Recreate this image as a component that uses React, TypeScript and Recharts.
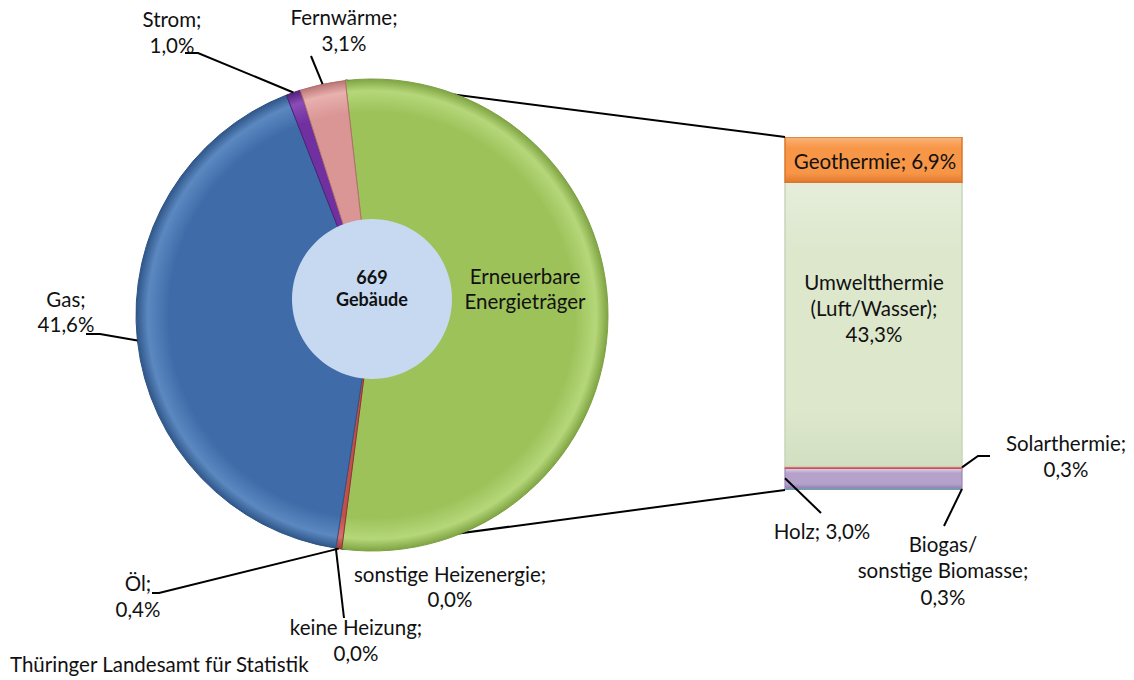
import React from 'react';
import { PieChart, Pie, Cell, BarChart, Bar, XAxis, YAxis } from 'recharts';

// ---------- data ----------
const pieCategories = ['Erneuerbare\nEnergieträger', 'Öl', 'sonstige Heizenergie', 'keine Heizung', 'Gas', 'Strom', 'Fernwärme'];
const pieValues = [53.8, 0.4, 0.0, 0.0, 41.6, 1.0, 3.1];
const barCategories = ['Biogas/\nsonstige Biomasse', 'Holz', 'Solarthermie', 'Umweltthermie\n(Luft/Wasser)', 'Geothermie'];
const barValues = [0.3, 3.0, 0.3, 43.3, 6.9];
const centerValue = 669;
const centerUnit = 'Gebäude';
const sourceText = 'Thüringer Landesamt für Statistik';

// ---------- layout / style ----------
const W = 1134;
const H = 680;
const FONT = "Lato, 'Open Sans', sans-serif";
const FS = 20.5;
const TXT = '#111';
const PIE = { cx: 372, cy: 315, r: 236, startAngle: 96.5 };
const HOLE = { cx: 372, cy: 299, r: 80 };
const BAR_MARGIN = { top: 137, right: 172, bottom: 190, left: 785 };

// [rim-light, base, dark]
const pieShades = [
  ['#B5D77A', '#9DC25A', '#7FA442'],
  ['#D8706D', '#C0504D', '#9A3A38'],
  ['#BBB', '#A0A0A0', '#808080'],
  ['#999', '#808080', '#666'],
  ['#5B88C0', '#3F6CA8', '#2F5689'],
  ['#8A4CB8', '#7030A0', '#53207A'],
  ['#E8B0AE', '#D99694', '#BA7573'],
];
const pieStrokes = ['#7E9F45', '#8E3533', '#777', '#777', '#2F5585', '#4F1F75', '#B06F6D'];
// [top-light, base, bottom-dark]
const barShades = [
  ['#8FC2CE', '#5E9EAD', '#4A8796'],
  ['#DDD2EA', '#B4A2CB', '#9482AF'],
  ['#E07A77', '#D9534F', '#B73A37'],
  ['#E6EEDB', '#DCE7CC', '#D3DFC1'],
  ['#FAB47A', '#F79646', '#E2792C'],
];
const barStrokes = ['#6AA8B6', '#9A88B5', '#D9464F', '#C9D3BC', '#D9772C'];
const barStrokeWidths = [1, 1.2, 1, 1.5, 1.5];

type LabelCfg = { x: number; base: number[]; mode: 'stack' | 'inline' | 'name'; leader?: number[][] };

const pieLabelLayout: Record<number, LabelCfg> = {
  0: { x: 525, base: [284, 309], mode: 'name' },
  1: { x: 138, base: [591, 617], mode: 'stack', leader: [[152, 593], [159, 593]] },
  2: { x: 450, base: [582, 607], mode: 'stack' },
  3: { x: 356, base: [635, 661], mode: 'stack', leader: [[344, 618]] },
  4: { x: 66, base: [307, 332], mode: 'stack', leader: [[86, 334], [100, 334]] },
  5: { x: 172, base: [27, 53], mode: 'stack', leader: [[185, 53], [198, 53]] },
  6: { x: 344, base: [25, 51], mode: 'stack', leader: [[311, 56]] },
};

const barLabelLayout: Record<number, LabelCfg> = {
  0: { x: 943, base: [552, 578, 605], mode: 'stack', leader: [[944, 526]] },
  1: { x: 822, base: [539], mode: 'inline', leader: [[821, 513]] },
  2: { x: 1066, base: [451, 477], mode: 'stack', leader: [[990, 456], [978, 456]] },
  3: { x: 874, base: [290, 316, 342], mode: 'stack' },
  4: { x: 875, base: [169], mode: 'inline' },
};

// ---------- helpers ----------
const RAD = Math.PI / 180;
const fmt = (v: number) => v.toFixed(1).replace('.', ',') + '%';
const pieTotal = pieValues.reduce((a, b) => a + b, 0);
const barTotal = barValues.reduce((a, b) => a + b, 0);
const polar = (cx: number, cy: number, r: number, a: number) => ({
  x: cx + r * Math.cos(-a * RAD),
  y: cy + r * Math.sin(-a * RAD),
});
const splitStart = polar(PIE.cx, PIE.cy, PIE.r, PIE.startAngle);
const splitEnd = polar(PIE.cx, PIE.cy, PIE.r, PIE.startAngle - (360 * pieValues[0]) / pieTotal);

const pieData = pieCategories.map((name, i) => ({ name, value: pieValues[i] }));
const barRow: Record<string, any> = { name: 'Erneuerbare' };
barCategories.forEach((_, i) => (barRow['k' + i] = barValues[i]));
const barData = [barRow];

const linesFor = (name: string, value: number, mode: LabelCfg['mode']) => {
  const parts = name.split('\n');
  if (mode === 'name') return parts;
  if (mode === 'inline') return [parts.join(' ') + '; ' + fmt(value)];
  const ls = parts.slice();
  ls[ls.length - 1] = ls[ls.length - 1] + ';';
  return [...ls, fmt(value)];
};

const Leader = ({ pts }: { pts: number[][] }) => (
  <polyline points={pts.map((p) => p.join(',')).join(' ')} fill="none" stroke="#000" strokeWidth={2} />
);

const TextBlock = ({ cfg, lines }: { cfg: LabelCfg; lines: string[] }) => (
  <text fontFamily={FONT} fontSize={FS} fill={TXT} textAnchor="middle">
    {lines.map((l, k) => (
      <tspan key={k} x={cfg.x} y={cfg.base[k]}>
        {l}
      </tspan>
    ))}
  </text>
);

const renderPieLabel = (p: any) => {
  const i: number = p.index;
  const cfg = pieLabelLayout[i];
  if (!cfg) return null;
  const anchor = polar(p.cx, p.cy, p.outerRadius, p.midAngle);
  const lines = linesFor(pieCategories[i], pieValues[i], cfg.mode);
  return (
    <g key={'pl' + i}>
      {cfg.leader && <Leader pts={[...cfg.leader, [anchor.x, anchor.y]]} />}
      <TextBlock cfg={cfg} lines={lines} />
    </g>
  );
};

const renderCenterLabel = (p: any) => (
  <text key="center" fontFamily={FONT} fontSize={18} fontWeight={700} fill="#111" textAnchor="middle">
    <tspan x={p.cx} y={p.cy - 15}>{String(centerValue)}</tspan>
    <tspan x={p.cx} y={p.cy + 7}>{centerUnit}</tspan>
  </text>
);

const renderBarLabel = (p: any, i: number) => {
  const cfg = barLabelLayout[i];
  const x = Number(p.x), y = Number(p.y), w = Number(p.width), h = Number(p.height);
  const lines = linesFor(barCategories[i], barValues[i], cfg.mode);
  let anchor: number[] | null = null;
  if (i === 0) anchor = [x + w, y + h / 2];
  if (i === 1) anchor = [x, y + h / 2];
  if (i === 2) anchor = [x + w, y + h / 2];
  return (
    <g key={'bl' + i}>
      {i === barCategories.length - 1 && (
        <line x1={x} y1={y} x2={splitStart.x} y2={splitStart.y} stroke="#000" strokeWidth={2} />
      )}
      {i === 0 && <line x1={x} y1={y + h} x2={splitEnd.x} y2={splitEnd.y} stroke="#000" strokeWidth={2} />}
      {cfg.leader && anchor && <Leader pts={[...cfg.leader, anchor]} />}
      <TextBlock cfg={cfg} lines={lines} />
    </g>
  );
};

const Gradients = () => (
  <svg width={0} height={0} style={{ position: 'absolute', left: 0, top: 0 }}>
    <defs>
      {pieShades.map((s, i) => (
        <radialGradient
          key={'pg' + i}
          id={'pg' + i}
          gradientUnits="userSpaceOnUse"
          cx={PIE.cx}
          cy={PIE.cy}
          r={PIE.r}
        >
          <stop offset="0" stopColor={s[1]} />
          <stop offset="0.86" stopColor={s[1]} />
          <stop offset="0.95" stopColor={s[0]} />
          <stop offset="1" stopColor={s[2]} />
        </radialGradient>
      ))}
      {barShades.map((s, i) => (
        <linearGradient key={'bg' + i} id={'bg' + i} x1="0" y1="0" x2="0" y2="1">
          <stop offset="0" stopColor={s[0]} />
          <stop offset="0.25" stopColor={s[1]} />
          <stop offset="0.8" stopColor={s[1]} />
          <stop offset="1" stopColor={s[2]} />
        </linearGradient>
      ))}
    </defs>
  </svg>
);

export default function App() {
  return (
    <div style={{ position: 'absolute', left: 0, top: 0, width: W, height: H, background: '#fff' }}>
      <Gradients />
      <div style={{ position: 'absolute', left: 0, top: 0 }}>
        <BarChart width={W} height={H} data={barData} margin={BAR_MARGIN} barCategoryGap={0}>
          <XAxis dataKey="name" hide />
          <YAxis hide domain={[0, barTotal]} allowDataOverflow />
          {barCategories.map((c, i) => (
            <Bar
              key={c}
              dataKey={'k' + i}
              stackId="s"
              fill={`url(#bg${i})`}
              stroke={barStrokes[i]}
              strokeWidth={barStrokeWidths[i]}
              isAnimationActive={false}
              label={(p: any) => renderBarLabel(p, i)}
            />
          ))}
        </BarChart>
      </div>
      <div style={{ position: 'absolute', left: 0, top: 0 }}>
        <PieChart width={W} height={H} margin={{ top: 0, right: 0, bottom: 0, left: 0 }}>
          <Pie
            data={pieData}
            dataKey="value"
            nameKey="name"
            cx={PIE.cx}
            cy={PIE.cy}
            outerRadius={PIE.r}
            startAngle={PIE.startAngle}
            endAngle={PIE.startAngle - 360}
            isAnimationActive={false}
            label={renderPieLabel}
            labelLine={false}
          >
            {pieData.map((d, i) => (
              <Cell key={d.name} fill={`url(#pg${i})`} stroke={pieStrokes[i]} strokeWidth={1} />
            ))}
          </Pie>
          <Pie
            data={[{ name: centerUnit, value: centerValue }]}
            dataKey="value"
            cx={HOLE.cx}
            cy={HOLE.cy}
            outerRadius={HOLE.r}
            fill="#C6D9F1"
            stroke="none"
            isAnimationActive={false}
            label={renderCenterLabel}
            labelLine={false}
          />
        </PieChart>
      </div>
      <div
        style={{
          position: 'absolute',
          left: 10,
          top: 652,
          fontFamily: FONT,
          fontSize: FS,
          color: TXT,
          whiteSpace: 'nowrap',
          lineHeight: '24px',
        }}
      >
        {sourceText}
      </div>
    </div>
  );
}
